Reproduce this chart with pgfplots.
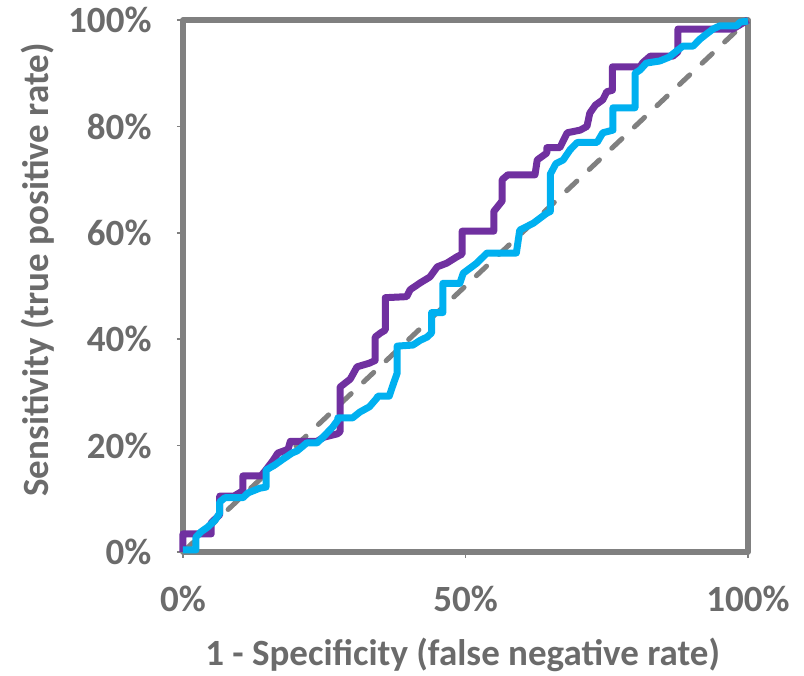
\documentclass[border=0pt]{standalone}
\usepackage{pgfplots}
\pgfplotsset{compat=1.18}
\usepackage{fontspec}
\setmainfont{Carlito}
\definecolor{rocpurple}{HTML}{7030A0}
\definecolor{rocblue}{HTML}{00B0F0}
\definecolor{framegray}{HTML}{808080}
\definecolor{labelgray}{HTML}{6B6B6B}
\begin{document}
\begin{tikzpicture}
\begin{axis}[
    name=ax,
    width=565pt,
    height=532pt,
    scale only axis,
    xmin=0, xmax=100,
    ymin=0, ymax=100,
    clip=false,
    axis line style={draw=framegray, line width=5.5pt},
    xtick={0,50,100},
    xticklabels={0\%,50\%,100\%},
    ytick={0,20,40,60,80,100},
    yticklabels={0\%,20\%,40\%,60\%,80\%,100\%},
    tick align=outside,
    major tick length=6pt,
    tick style={draw=framegray, line width=1.5pt},
    xtick pos=bottom, ytick pos=left,
    ticklabel style={font=\fontsize{37}{44}\selectfont\bfseries, text=labelgray},
    xticklabel style={yshift=-24pt},
    yticklabel style={xshift=-22pt},
    xlabel={1 - Specificity (false negative rate)},
    ylabel={Sensitivity (true positive rate)},
    label style={font=\fontsize{37}{44}\selectfont\bfseries, text=labelgray},
    xlabel style={at={(axis description cs:0.495,-0.194)}, anchor=center},
    ylabel style={at={(axis description cs:-0.258,0.53)}, anchor=center},
    line join=round,
]
% chance line
\addplot[framegray, line width=5pt, line cap=round, dash pattern=on 14pt off 17pt]
    coordinates {(0,0) (100,100)};
% purple curve
\addplot[rocpurple, line width=7pt] coordinates {
    (0,0) (0,3.4) (5,3.4) (5,5.5) (6.5,7) (6.5,10.5) (9,10.5) (10.6,11.5)
    (10.6,14.3) (13.8,14.3) (14.5,15.2) (15.8,17) (16.8,18.6) (18.6,19.3)
    (19,20.8) (23.7,20.8) (25,21.6) (27.3,22.2) (27.8,22.6) (27.8,31)
    (29.6,32.5) (30.8,34.8) (33,35.5) (34,36) (34,40.4) (35,41.2) (35.8,41.7)
    (35.8,47.8) (39.6,48) (40.2,49.3) (42,50.6) (43.7,51.7) (45,53.6)
    (46.7,54.3) (48.5,55.5) (49.4,56) (49.4,60.3) (55,60.3) (55,64) (56.5,66)
    (56.5,70) (57.5,70.9) (62.3,70.9) (62.7,73.7) (64.4,75) (64.4,76)
    (66.7,76) (68,78.8) (70.3,79.3) (71.5,80) (72,82.5) (73,84) (74.3,85)
    (75,86.5) (76,86.8) (76,91.2) (80.9,91.2) (81.4,92) (82.7,93.2)
    (86.7,93.2) (87.6,94) (87.6,98.3) (97.3,98.3) (100,100)
};
% blue curve
\addplot[rocblue, line width=7pt] coordinates {
    (0,0.4) (2.3,0.4) (2.3,2.8) (3.2,3.8) (4.4,4.7) (5.7,6) (6.5,7.3)
    (6.5,9.4) (7.4,10.2) (10.6,10.2) (11.5,11.1) (13.6,12) (14.7,12.2)
    (14.7,15.4) (16.3,16.4) (17.5,17.3) (19.3,18.6) (20.2,19) (21.9,20.5)
    (23.7,20.5) (24.8,21.6) (26.5,23.5) (27.4,24.8) (27.4,25.2) (30,25.2)
    (31.3,26.3) (33,27.3) (34.3,28.9) (34.5,29.3) (36.5,29.3) (37.2,31.5)
    (37.9,33.6) (37.9,38.7) (40.7,38.9) (42,39.8) (43.2,40.4) (44,41.2)
    (44,45) (46,45) (46,50.5) (49,50.5) (49.6,52.4) (52,54.3) (53.8,56.2)
    (59,56.2) (59.6,60.5) (62,61.8) (64.4,63.7) (65,64) (65,71) (66,73)
    (67.3,73.7) (68.5,75.6) (69.7,76.9) (70,77) (73.3,77) (74.3,78.8)
    (76.1,79.3) (76.1,83.5) (80,83.5) (80,90) (80.9,90.6) (82,91.9)
    (84.4,92.3) (86,93) (87.4,94.2) (88.5,95.1) (90.3,95.1) (91.5,96.4)
    (92.7,97.4) (93.8,98.3) (95,98.9) (98,98.9) (98.6,99.6) (100,99.8)
};
\end{axis}
\path ([shift={(-183pt,-122pt)}]ax.south west) rectangle ([shift={(56pt,20pt)}]ax.north east);
\end{tikzpicture}
\end{document}
